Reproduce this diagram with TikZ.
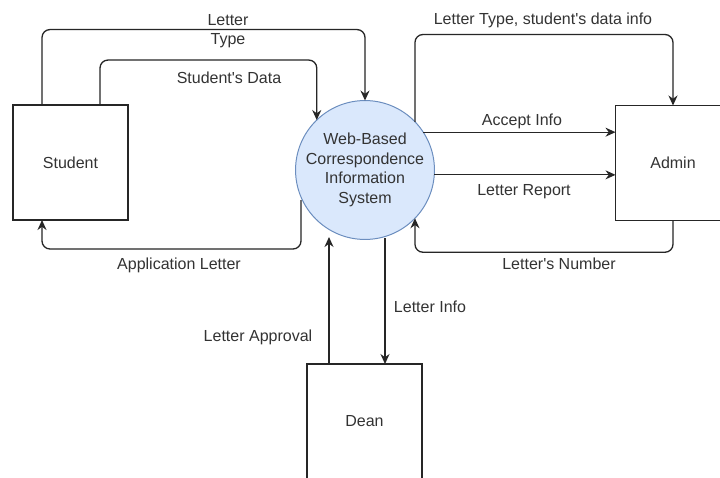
\documentclass[tikz,border=0pt]{standalone}
\usepackage{fontspec}
\setmainfont{Liberation Sans}[Ligatures=TeXOff]
\usetikzlibrary{arrows.meta,calc}
\definecolor{sysfill}{HTML}{DAE8FC}
\definecolor{sysline}{HTML}{6C8EBF}
\definecolor{txt}{HTML}{333333}
\begin{document}
\begin{tikzpicture}[x=1pt,y=-1pt,
  every node/.style={font=\fontsize{16}{19.5}\selectfont, text=txt},
  entity/.style={draw=black!85, line width=1.3pt, minimum width=115pt, minimum height=115pt, inner sep=0pt, outer sep=0pt},
  proc/.style={circle, draw=sysline, fill=sysfill, line width=1pt, minimum size=130pt, inner sep=0pt, outer sep=0pt, align=center},
  flow/.style={draw=black!85, line width=1.3pt, rounded corners=8pt, -{Stealth[length=10pt,width=9pt]}},
  lbl/.style={inner sep=1pt, align=center}]
\useasboundingbox (0,0) rectangle (720,477);
\fill[white] (0,0) rectangle (720,477);

\node[entity] (stu) at (70.5,162.5) {Student};
\node[entity] (adm) at (673,163) {Admin};
\node[entity] (dean) at (364.5,421.5) {Dean};
\node[proc] (sys) at (365,170) {Web-Based\\Correspondence\\Information\\System};

\coordinate (appS) at ($(sys.center)+(-64,30)$);
\coordinate (apT) at ($(sys.center)+(-36,67)$);
\coordinate (liS) at ($(sys.center)+(20,68)$);

% Student -> system
\draw[flow] ($(stu.north)+(-28.5,0)$) |- ($(sys.north)+(0,-71)$) -- (sys.north);
\draw[flow] ($(stu.north)+(29.5,0)$) |- ($(sys.134)+(0,-60)$) -- (sys.134);
% system -> admin
\draw[flow] (sys.44) |- ($(adm.north)+(0,-71)$) -- (adm.north);
\draw[flow] (sys.33.6) -- (sys.33.6 -| adm.west);
\draw[flow] (sys.-4.4) -- (sys.-4.4 -| adm.west);
% admin -> system
\draw[flow] (adm.south) |- ($(sys.-44)+(0,34)$) -- (sys.-44);
% system -> student
\draw[flow] (appS) |- ($(stu.south)+(-28.5,29)$) -- ($(stu.south)+(-28.5,0)$);
% dean <-> system
\draw[flow] ($(dean.north)+(-35.5,0)$) -- (apT);
\draw[flow] (liS) -- ($(dean.north)+(20.5,0)$);

\node[lbl] (l1) at (228,31) {Letter\\Type};
\node[lbl] (l2) at (229,78) {Student's Data};
\node[lbl] (l3) at (543,20) {Letter Type, student's data info};
\node[lbl] (l4) at (522,121) {Accept Info};
\node[lbl] (l5) at (524,192) {Letter Report};
\node[lbl] (l6) at (559,264) {Letter's Number};
\node[lbl] (l7) at (179,265) {Application Letter};
\node[lbl] (l8) at (258,337) {Letter Approval};
\node[lbl] (l9) at (430,307) {Letter Info};
\end{tikzpicture}
\end{document}
